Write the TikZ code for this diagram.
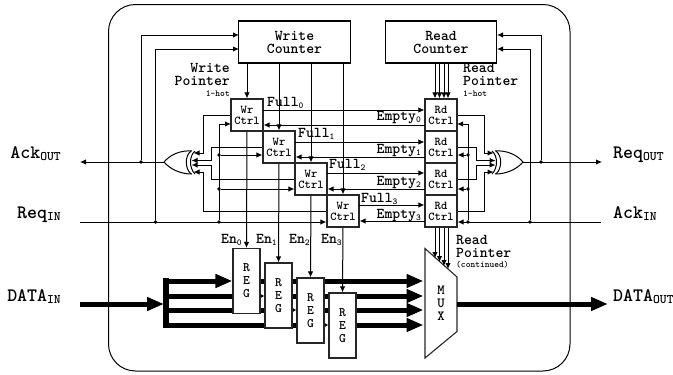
\documentclass[tikz,border=0pt]{standalone}
\usetikzlibrary{arrows.meta,backgrounds}
\newcommand{\lowsub}[2][9.1]{\raisebox{-2.5pt}{\fontsize{#1}{#1}\selectfont #2}}
\newcommand{\xorshape}{%
  \draw[gate] (192,151) .. controls (180,150) and (170,155) .. (164,162)
     .. controls (170,169) and (180,174) .. (192,174);
  \draw[gate] (191,151) .. controls (184.7,156) and (184.7,168) .. (191,174);
  \draw[gate] (195,151) .. controls (189,156) and (189,168) .. (195,174);
}
\tikzset{
  wire/.style={line width=1pt,draw=black},
  sig/.style={wire,-{Latex[length=6pt,width=5.5pt]}},
  gate/.style={line width=1pt,draw=black},
  bus/.style={line width=5pt,draw=black},
  busarrow/.style={bus,-{Triangle[length=17pt,width=13pt]}},
  smallarrow/.style={line width=1.5pt,draw=black,-{Latex[length=4pt,width=4.5pt]}},
  ctrl/.style={draw=black!85,line width=1.1pt,fill=white,minimum width=32pt,minimum height=32pt,inner sep=0pt,align=center,font=\ttfamily\bfseries\fontsize{12}{11}\selectfont},
  regbox/.style={draw=black!85,line width=1.1pt,fill=white,minimum width=27pt,minimum height=65pt,inner sep=0pt,align=center,font=\ttfamily\bfseries\fontsize{13}{13}\selectfont},
  counter/.style={draw=black,line width=1.1pt,minimum width=111.5pt,minimum height=42pt,inner sep=0pt,align=center,font=\ttfamily\bfseries\fontsize{15}{13}\selectfont},
  lbl/.style={inner sep=0pt,font=\ttfamily\bfseries\fontsize{15}{13}\selectfont},
  biglbl/.style={inner sep=0pt,font=\ttfamily\bfseries\fontsize{19}{17}\selectfont},
  dotj/.style={circle,fill=black,inner sep=0pt,minimum size=3.8pt},
}
\begin{document}
\begin{tikzpicture}[x=1pt,y=-1pt]
\useasboundingbox (0,0) rectangle (673,375);
% frame
\node[draw=black,line width=1pt,rounded corners=27pt,minimum width=461.5pt,minimum height=366.5pt,inner sep=0pt] (frame) at (339.25,187.75) {};
% counters
\node[counter] (wc) at (294.5,42) {Write\\Counter};
\node[counter] (rc) at (441,42) {Read\\Counter};
% control cells
\node[ctrl] (wr0) at (247,115) {Wr\\Ctrl};
\node[ctrl] (wr1) at (279,147) {Wr\\Ctrl};
\node[ctrl] (wr2) at (311,179) {Wr\\Ctrl};
\node[ctrl] (wr3) at (343,211) {Wr\\Ctrl};
\node[ctrl] (rd0) at (441,115) {Rd\\Ctrl};
\node[ctrl] (rd1) at (441,147) {Rd\\Ctrl};
\node[ctrl] (rd2) at (441,179) {Rd\\Ctrl};
\node[ctrl] (rd3) at (441,211) {Rd\\Ctrl};
% registers
\node[regbox] (reg0) at (246.5,281) {R\\E\\G};
\node[regbox] (reg1) at (278.5,295.5) {R\\E\\G};
\node[regbox] (reg2) at (310.5,310.5) {R\\E\\G};
\node[regbox] (reg3) at (342.5,325.5) {R\\E\\G};
% mux
\coordinate (muxtl) at (425,248.5);
\coordinate (muxtr) at (457,277);
\coordinate (muxbr) at (457,331.5);
\coordinate (muxbl) at (425,358);
\coordinate (muxw) at (423.5,304);
\coordinate (muxe) at (457,304);
\draw[draw=black!85,line width=1.1pt] (muxtl) -- (muxtr) -- (muxbr) -- (muxbl) -- cycle;
\node[inner sep=0pt,align=center,font=\ttfamily\bfseries\fontsize{14}{13}\selectfont] (muxtext) at (441,303) {M\\U\\X};
% XOR gates
\xorshape
\begin{scope}[shift={(687,0)},xscale=-1]
\xorshape
\end{scope}
\coordinate (xl) at (164,162);
\coordinate (xr) at (523,162);
% data bus, under the registers
\begin{pgfonlayer}{background}
\coordinate (b0) at (166,281);
\coordinate (b1) at (166,296);
\coordinate (b2) at (166,310);
\coordinate (b3) at (166,325);
\fill[black] (163,278) rectangle (169,328);
\draw[busarrow] (b0) -- (b0 -| reg0.west);
\draw[bus] (b1) -- (b1 -| reg0.west);
\draw[bus] (b2) -- (b2 -| reg1.west);
\draw[bus] (b3) -- (b3 -| reg1.west);
\draw[busarrow] (b0 -| reg0.east) -- (b0 -| muxw);
\draw[busarrow] (b1 -| reg1.east) -- (b1 -| muxw);
\draw[busarrow] (b2 -| reg2.east) -- (b2 -| muxw);
\draw[busarrow] (b3 -| reg3.east) -- (b3 -| muxw);
\draw[bus] (b3 -| reg1.east) -- (b3 -| reg2.west);
\draw[smallarrow] (b1 -| reg0.east) -- (b1 -| reg1.west);
\draw[smallarrow] (b2 -| reg1.east) -- (b2 -| reg2.west);
\draw[smallarrow] (b3 -| reg2.east) -- (b3 -| reg3.west);
\end{pgfonlayer}
\coordinate (din) at (80,304);
\coordinate (dbus) at (164,304);
\coordinate (dout) at (608,304);
\draw[busarrow] (din) -- (dbus);
\draw[busarrow] (muxe) -- (dout);
% write pointer
\foreach \i in {0,1,2,3} {
  \draw[sig] (wc.south -| wr\i.north) -- (wr\i.north);
  \draw[sig] (wr\i.south) -- (reg\i.north);
}
% read pointer
\coordinate (rp0) at (435,63);
\coordinate (rp1) at (439.5,63);
\coordinate (rp2) at (444,63);
\coordinate (rp3) at (448,63);
\foreach \i in {0,1,2,3} {\draw[sig] (rp\i) -- (rp\i |- rd0.north);}
\coordinate (mp0) at (435,258);
\coordinate (mp1) at (439.5,262);
\coordinate (mp2) at (444,266);
\coordinate (mp3) at (448,269);
\foreach \i in {0,1,2,3} {\draw[sig] (mp\i |- rd3.south) -- (mp\i);}
% full / empty
\coordinate (f0) at (263,110);
\coordinate (f1) at (295,142);
\coordinate (f2) at (327,173);
\coordinate (f3) at (359,205);
\coordinate (e0) at (425,125);
\coordinate (e1) at (425,157);
\coordinate (e2) at (425,189);
\coordinate (e3) at (425,221);
\foreach \i in {0,1,2,3} {
  \draw[sig] (f\i) -- (f\i -| rd\i.west);
  \draw[sig] (e\i) -- (e\i -| wr\i.east);
}
% left control
\coordinate (ackout) at (80,162);
\coordinate (reqin) at (80,222);
\node[dotj] (jl1) at (141,162) {};
\node[dotj] (jl2) at (155.5,222) {};
\node[dotj] (jl3) at (219,222) {};
\node[dotj] (jl4) at (219,189) {};
\node[dotj] (jl5) at (219,155) {};
\coordinate (wct) at (239,35);
\coordinate (wcb) at (239,49);
\coordinate (w0in) at (231,124);
\draw[sig] (xl) -- (ackout);
\draw[sig] (jl1) |- (wct);
\draw[sig] (jl2) |- (wcb);
\draw[sig] (reqin) -- (reqin -| wr3.west);
\draw[sig] (jl3) |- (w0in);
\draw[sig] (jl4) -- (jl4 -| wr2.west);
\draw[sig] (jl5) -- (jl5 -| wr1.west);
% xor inputs left
\coordinate (xli0) at (193.5,153);
\coordinate (xli1) at (191.5,160.5);
\coordinate (xli2) at (191.5,165);
\coordinate (xli3) at (193.5,172);
\draw[sig] (wr0.west) -- (203,115) |- (xli0);
\draw[sig] (wr1.west) -- (211,147) |- (xli1);
\draw[sig] (wr2.west) -- (211,179) |- (xli2);
\draw[sig] (wr3.west) -- (203.5,211) |- (xli3);
% right control
\coordinate (reqout) at (602,162);
\coordinate (ackin) at (601,222);
\node[dotj] (jr1) at (541,162) {};
\node[dotj] (jr2) at (530,222) {};
\node[dotj] (jr3) at (468,222) {};
\node[dotj] (jr4) at (468,189) {};
\node[dotj] (jr5) at (468,155) {};
\coordinate (rct) at (497,35);
\coordinate (rcb) at (497,49);
\coordinate (r0in) at (457,124);
\draw[sig] (xr) -- (reqout);
\draw[sig] (jr1) |- (rct);
\draw[sig] (jr2) |- (rcb);
\draw[sig] (ackin) -- (ackin -| rd3.east);
\draw[sig] (jr3) |- (r0in);
\draw[sig] (jr4) -- (jr4 -| rd2.east);
\draw[sig] (jr5) -- (jr5 -| rd1.east);
\coordinate (xri0) at (493.5,153);
\coordinate (xri1) at (495.5,160.5);
\coordinate (xri2) at (495.5,165);
\coordinate (xri3) at (493.5,172);
\draw[sig] (rd0.east) -- (484,115) |- (xri0);
\draw[sig] (rd1.east) -- (476,147) |- (xri1);
\draw[sig] (rd2.east) -- (476,179) |- (xri2);
\draw[sig] (rd3.east) -- (484,211) |- (xri3);
% labels
\node[lbl,anchor=south east,align=right] (wplabel) at (230,97) {Write\\Pointer\\[-2pt]{\fontsize{9.1}{8}\selectfont 1-hot}};
\node[lbl,anchor=south west,align=left] (rplabel) at (463,97) {Read\\Pointer\\[-2pt]{\fontsize{9.1}{8}\selectfont 1-hot}};
\node[lbl,anchor=south west,align=left] (rclabel) at (456,268.5) {Read\\Pointer\\[-3pt]{\fontsize{9.1}{8}\selectfont (continued)}};
\node[lbl,anchor=base west] (full0) at (267,106) {Full\lowsub{0}};
\node[lbl,anchor=base west] (full1) at (298,137) {Full\lowsub{1}};
\node[lbl,anchor=base west] (full2) at (329,168) {Full\lowsub{2}};
\node[lbl,anchor=base west] (full3) at (361,202) {Full\lowsub{3}};
\node[lbl,anchor=base east] (empty0) at (421,120) {Empty\lowsub{0}};
\node[lbl,anchor=base east] (empty1) at (421,153) {Empty\lowsub{1}};
\node[lbl,anchor=base east] (empty2) at (421,185) {Empty\lowsub{2}};
\node[lbl,anchor=base east] (empty3) at (421,218) {Empty\lowsub{3}};
\node[lbl,anchor=base west] (en0) at (221,243) {En\lowsub{0}};
\node[lbl,anchor=base west] (en1) at (256,243) {En\lowsub{1}};
\node[lbl,anchor=base west] (en2) at (289,243) {En\lowsub{2}};
\node[lbl,anchor=base west] (en3) at (321,243) {En\lowsub{3}};
\node[biglbl,anchor=base east] (l1) at (61,158) {Ack\lowsub[13]{OUT}};
\node[biglbl,anchor=base east] (l2) at (61,218) {Req\lowsub[13]{IN}};
\node[biglbl,anchor=base east] (l3) at (61,301) {DATA\lowsub[13]{IN}};
\node[biglbl,anchor=base west] (l4) at (613,158) {Req\lowsub[13]{OUT}};
\node[biglbl,anchor=base west] (l5) at (613,218) {Ack\lowsub[13]{IN}};
\node[biglbl,anchor=base west] (l6) at (613,301) {DATA\lowsub[13]{OUT}};
\end{tikzpicture}
\end{document}
